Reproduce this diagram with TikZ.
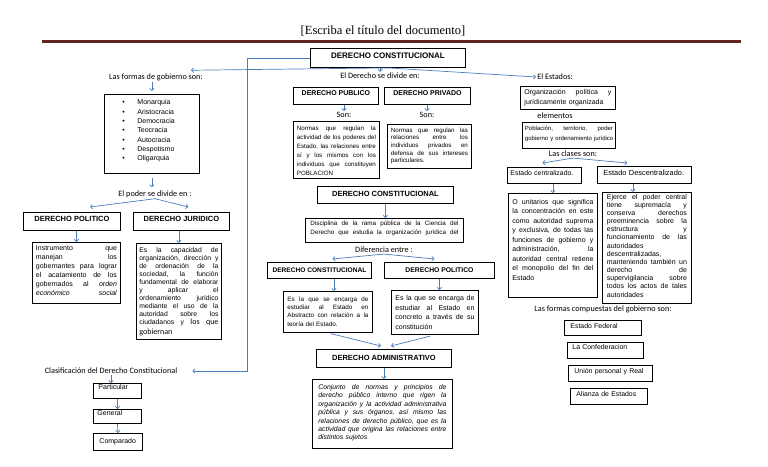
\documentclass[tikz,border=0pt]{standalone}
\usepackage{fontspec}
\setmainfont{Liberation Sans}
\newfontfamily\lblfont{Carlito}
\newfontfamily\ttlfont{Liberation Serif}
\usetikzlibrary{arrows.meta}
\definecolor{arrblue}{HTML}{4A7EBB}
\definecolor{rulered}{HTML}{632523}
\newcommand{\fs}[2]{\fontsize{#1}{#2}\selectfont}
\newcommand{\jrow}[1]{\hbox to\hsize{\frenchspacing\spaceskip=.278em plus 1fil\relax#1}\par}
\newcommand{\lrow}[1]{\hbox{#1}\par}

\begin{document}
\begin{tikzpicture}[x=1pt,y=-1pt,
    box/.style={draw,line width=0.9pt,inner sep=0pt,anchor=north west},
    head/.style={box,font=\bfseries\fs{7.5}{9}},
    para/.style={box,inner xsep=4pt},
    lbl/.style={font=\lblfont\fs{8.2}{9},inner sep=1pt},
    arr/.style={draw=arrblue,line width=0.7pt,-{Straight Barb[length=2.2pt,width=4.4pt]}}]
  \useasboundingbox (0,0) rectangle (768,466);

  % title and rule
  \node[font=\ttlfont\fs{12.5}{14}] (title) at (383,31) {[Escriba el título del documento]};
  \draw[rulered,line width=3pt] (42,41) -- (741,41);

  \node[head,font=\bfseries\fs{8}{9},minimum width=155pt,text height=10pt,text depth=9pt] (dc0) at (310,48) {DERECHO CONSTITUCIONAL};
  \node[lbl] (formas) at (156,77) {Las formas de gobierno son:};
  \node[lbl] (divide) at (380,76) {El Derecho se divide en:};
  \node[lbl] (estados) at (555,77) {El Estados:};

  % left column
  \node[box,text width=59pt,inner xsep=18pt,font=\fs{7}{9.33},text height=10.4pt,text depth=68.6pt] (formlist) at (104,94)
    {\lrow{\makebox[15pt][l]{\textbullet}Monarquia}\lrow{\makebox[15pt][l]{\textbullet}Aristocracia}%
     \lrow{\makebox[15pt][l]{\textbullet}Democracia}\lrow{\makebox[15pt][l]{\textbullet}Teocracia}%
     \lrow{\makebox[15pt][l]{\textbullet}Autocracia}\lrow{\makebox[15pt][l]{\textbullet}Despotismo}%
     \lrow{\makebox[15pt][l]{\textbullet}Oligarquia}};
  \node[lbl] (poder) at (155,194) {El poder se divide en :};
  \node[head,minimum width=97pt,text height=8.7pt,text depth=9.3pt] (dpol) at (23,212) {DERECHO POLITICO};
  \node[head,minimum width=96pt,text height=8.7pt,text depth=9.3pt] (djur) at (133,212) {DERECHO JURIDICO};
  \node[para,inner xsep=3.5pt,text width=81pt,font=\fs{7}{9},text height=8pt,text depth=53pt] (instr) at (32,242)
    {\jrow{Instrumento que}\jrow{manejan los}\jrow{gobernantes para lograr}\jrow{el acatamiento de los}%
     \jrow{gobernados al \textit{orden}}\jrow{\textit{económico social}}};
  \node[para,inner xsep=3pt,text width=79pt,font=\fs{6.8}{8.07},text height=8.8pt,text depth=87.2pt] (capac) at (136,243)
    {\jrow{Es la capacidad de}\jrow{organización, dirección y}\jrow{de ordenación de la}\jrow{sociedad, la función}%
     \jrow{fundamental de elaborar}\jrow{y aplicar el}\jrow{ordenamiento jurídico}\jrow{mediante el uso de la}%
     \jrow{autoridad sobre los}\jrow{ciudadanos y {\lblfont\fs{8}{10}los que}}\vskip2pt\lrow{\lblfont\fs{8}{10}gobiernan}};

  \node[lbl] (clasif) at (111,371) {Clasificación del Derecho Constitucional};
  \node[para,inner xsep=5pt,text width=38pt,font=\fs{7}{8},text height=6.5pt,text depth=8.5pt] (part) at (93,383) {Particular};
  \node[para,inner xsep=4pt,text width=40pt,font=\fs{7}{8},text height=6.5pt,text depth=7.5pt] (gen) at (93,409) {General};
  \node[para,inner xsep=6pt,text width=37pt,font=\fs{7}{8},text height=10.5pt,text depth=6.5pt] (comp) at (93,433) {Comparado};

  % middle column
  \node[head,font=\bfseries\fs{7}{9},minimum width=85pt,text height=8pt,text depth=9pt] (dpub) at (293,87) {DERECHO PUBLICO};
  \node[head,font=\bfseries\fs{7}{9},minimum width=86pt,text height=8pt,text depth=9pt] (dpriv) at (384,87) {DERECHO PRIVADO};
  \node[lbl] (son1) at (344,115) {Son:};
  \node[lbl] (son2) at (427,115) {Son:};
  \node[para,inner xsep=3.5pt,text width=79pt,font=\fs{6.2}{8.9},text height=9.2pt,text depth=47.8pt] (npub) at (293,121)
    {\jrow{Normas que regulan la}\jrow{actividad de los poderes del}\jrow{Estado, las relaciones entre}%
     \jrow{sí y los mismos con los}\jrow{individuos que constituyen}\lrow{POBLACION}};
  \node[para,inner xsep=3.5pt,text width=77pt,font=\fs{6.2}{7.6},text height=7.9pt,text depth=36.1pt] (npriv) at (387,124)
    {\jrow{Normas que regulan las}\jrow{relaciones entre los}\jrow{individuos privados en}%
     \jrow{defensa de sus intereses}\lrow{particulares.}};
  \node[head,minimum width=136pt,text height=9.7pt,text depth=7.3pt] (dc2) at (317,186) {DERECHO CONSTITUCIONAL};
  \node[para,inner xsep=5pt,text width=148pt,font=\fs{6.3}{8.4},text height=7.2pt,text depth=16.8pt] (disc) at (305,218)
    {\jrow{Disciplina de la rama pública de la Ciencia del}\jrow{Derecho que estudia la organización jurídica del}};
  \node[lbl] (dif) at (384,250) {Diferencia entre :};
  \node[head,font=\bfseries\fs{6.6}{8},minimum width=104pt,text height=9.9pt,text depth=6.1pt] (dc3) at (267,262) {DERECHO CONSTITUCIONAL};
  \node[head,font=\bfseries\fs{6.8}{8},minimum width=110pt,text height=9.9pt,text depth=6.1pt] (dpol2) at (384,262) {DERECHO POLITICO};
  \node[para,text width=81pt,font=\fs{6.3}{8.3},text height=9.9pt,text depth=31.1pt] (ea) at (283,291)
    {\jrow{Es la que se encarga de}\jrow{estudiar al Estado en}\jrow{Abstracto con relación a la}\lrow{teoría del Estado.}};
  \node[para,text width=79pt,font=\fs{7}{9.5},text height=10.1pt,text depth=33.9pt] (ec) at (391,290)
    {\jrow{Es la que se encarga de}\jrow{estudiar al Estado en}\jrow{concreto a través de su}\lrow{constitución}};
  \node[head,minimum width=135pt,text height=10.7pt,text depth=7.3pt] (dadm) at (316,349) {DERECHO ADMINISTRATIVO};
  \node[para,inner xsep=6pt,text width=128pt,font=\itshape\fs{6.8}{8.4},text height=10pt,text depth=59pt] (conj) at (312,379)
    {\jrow{Conjunto de normas y principios de}\jrow{derecho público interno que rigen la}%
     \jrow{organización y la actividad administrativa}\jrow{pública y sus órganos, así mismo las}%
     \jrow{relaciones de derecho público, que es la}\jrow{actividad que origina las relaciones entre}%
     \lrow{distintos sujetos}};

  % right column
  \node[para,text width=87pt,font=\fs{7}{9.4},text height=8.4pt,text depth=14.6pt] (org) at (520,86)
    {\jrow{Organización política y}\lrow{jurídicamente organizada}};
  \node[lbl] (elem) at (555,116) {elementos};
  \node[para,inner xsep=2.5pt,text width=88pt,font=\fs{6}{9.4},text height=8.2pt,text depth=17.8pt] (pob) at (522,122)
    {\jrow{Población, territorio, poder}\lrow{gobierno y ordenamiento jurídico}};
  \node[lbl] (clases) at (573,154) {Las clases son:};
  \node[para,inner xsep=3pt,text width=68pt,font=\fs{6.9}{8},text height=8.3pt,text depth=7.7pt] (cent) at (507,167) {Estado centralizado.};
  \node[para,inner xsep=6pt,text width=82pt,font=\fs{7.4}{8},text height=9.3pt,text depth=7.7pt] (desc) at (597,166) {Estado Descentralizado.};
  \node[para,text width=81pt,font=\fs{7}{9.5},text height=10.8pt,text depth=93.2pt] (unit) at (508,193)
    {\jrow{O unitarios que significa}\jrow{la concentración en este}\jrow{como autoridad suprema}%
     \jrow{y exclusiva, de todas las}\jrow{funciones de gobierno y}\jrow{administración, la}%
     \jrow{autoridad central retiene}\jrow{el monopolio del fin del}\lrow{Estado}};
  \node[para,inner xsep=4.5pt,text width=80pt,font=\fs{7}{8.17},text height=6.6pt,text depth=104.4pt] (ejer) at (602,192)
    {\jrow{Ejerce el poder central}\jrow{tiene supremacía y}\jrow{conserva derechos}\jrow{preeminencia sobre la}%
     \jrow{estructura y}\jrow{funcionamiento de las}\lrow{autoridades}\lrow{descentralizadas,}%
     \jrow{manteniendo también un}\jrow{derecho de}\jrow{supervigilancia sobre}\jrow{todos los actos de tales}%
     \lrow{autoridades}};
  \node[lbl] (compuestas) at (603,309) {Las formas compuestas del gobierno son:};
  \node[para,inner xsep=6pt,text width=65pt,font=\fs{6.9}{8},text height=8.3pt,text depth=6.7pt] (fed) at (564,320) {Estado Federal};
  \node[para,inner xsep=5pt,text width=66pt,font=\fs{6.9}{8},text height=7.3pt,text depth=8.7pt] (conf) at (567,342) {La Confederacion};
  \node[para,inner xsep=6pt,text width=72pt,font=\fs{6.9}{8},text height=8.3pt,text depth=7.7pt] (union) at (568,365) {Unión personal y Real};
  \node[para,inner xsep=6pt,text width=65pt,font=\fs{6.9}{8},text height=8.3pt,text depth=7.7pt] (alianza) at (570,388) {Alianza de Estados};

  % connectors
  \coordinate (rail) at (247,371);
  \coordinate (eatop) at ([xshift=6pt]ea.north);
  \coordinate (ejertop) at ([xshift=-14pt]ejer.north);
  \draw[arr] (dc0.south -| divide.north) -- (divide.north);
  \draw[arr] (dc0.south) -- ([xshift=-13pt,yshift=2pt]formas.north east);
  \draw[arr] (dc0.south) -- (estados.west);
  \draw[arr,shorten >=14pt] (dc0.west) -- (dc0.west -| rail) |- (clasif.east);
  \draw[arr,shorten >=3pt] (formlist.north |- formas.south) -- (formlist.north);
  \draw[arr,shorten <=4pt,shorten >=2pt] (formlist.south) -- (formlist.south |- poder.north);
  \draw[arr] (poder.south) -- ([xshift=18pt,yshift=5pt]dpol.north);
  \draw[arr] (poder.south) -- ([xshift=7pt,yshift=5pt]djur.north);
  \draw[arr] (instr.north |- dpol.south) -- (instr.north);
  \draw[arr] (capac.north |- djur.south) -- (capac.north);
  \draw[arr] (clasif.south) -- (clasif.south |- part.north);
  \draw[arr] (part.south) -- (gen.north);
  \draw[arr] (gen.south) -- (comp.north);
  \draw[arr] (son1.north |- dpub.south) -- (son1.north);
  \draw[arr] (son2.north |- dpriv.south) -- (son2.north);
  \draw[arr] (dc2.south) -- (dc2.south |- disc.north);
  \draw[arr] (dif.south) -- ([xshift=13pt,yshift=3pt]dc3.north);
  \draw[arr] (dif.south) -- ([xshift=-5pt,yshift=3pt]dpol2.north);
  \draw[arr] (eatop |- dc3.south) -- (eatop);
  \draw[arr] (dpol2.south) -- (dpol2.south |- ec.north);
  \draw[arr,shorten <=3pt] (ea.south) -- ([xshift=-3pt,yshift=3pt]dadm.north);
  \draw[arr,shorten <=5pt] (ec.south) -- ([xshift=7pt,yshift=3pt]dadm.north);
  \draw[arr] (dadm.south) -- (dadm.south |- conj.north);
  \draw[arr] (clases.south) -- ([xshift=-2pt,yshift=4pt]cent.north);
  \draw[arr] (clases.south) -- ([xshift=-17pt,yshift=3pt]desc.north);
  \draw[arr] (unit.north |- cent.south) -- (unit.north);
  \draw[arr] (ejertop |- desc.south) -- (ejertop);
\end{tikzpicture}
\end{document}
